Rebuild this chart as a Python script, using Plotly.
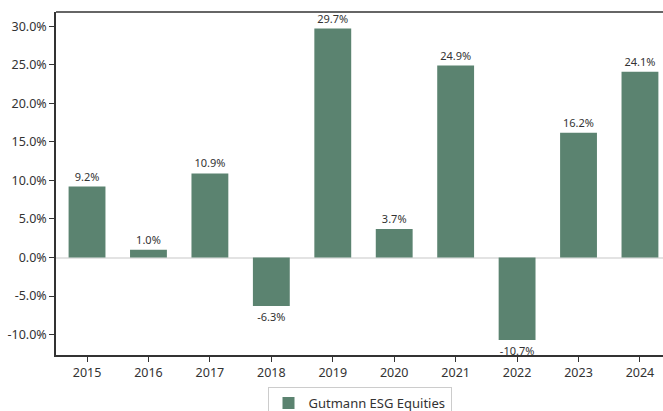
import plotly.graph_objects as go

years = ["2015", "2016", "2017", "2018", "2019", "2020", "2021", "2022", "2023", "2024"]
returns = [9.2, 1.0, 10.9, -6.3, 29.7, 3.7, 24.9, -10.7, 16.2, 24.1]
series_name = "Gutmann ESG Equities"
tick_vals = [-10, -5, 0, 5, 10, 15, 20, 25, 30]
tick_text = [f"{v:.1f}%" for v in tick_vals]

FONT = "Noto Sans, Open Sans, sans-serif"
DARK = "#333333"

fig = go.Figure()
fig.add_trace(go.Bar(
    x=list(range(len(years))),
    y=returns,
    name=series_name,
    width=0.6,
    marker=dict(color="#5b8370", line=dict(width=0)),
    text=[f"{v:.1f}%" for v in returns],
    textposition="outside",
    textfont=dict(family=FONT, size=11, color=DARK),
    cliponaxis=False,
    showlegend=True,
))

fig.update_layout(
    width=663, height=411,
    margin=dict(l=56, r=0, t=12, b=56),
    plot_bgcolor="white", paper_bgcolor="white",
    font=dict(family=FONT, size=12.5, color=DARK),
    bargap=0.4,
    showlegend=True,
    legend=dict(
        orientation="h", x=0.5, xanchor="center",
        yref="container", y=1 - 387 / 411, yanchor="top",
        bordercolor="#cccccc", borderwidth=1,
        font=dict(family=FONT, size=13, color=DARK),
    ),
    xaxis=dict(
        tickmode="array", tickvals=list(range(len(years))), ticktext=years,
        range=[-0.505, 9.375],
        showline=True, linecolor=DARK, linewidth=1.5, mirror=False,
        ticks="outside", ticklen=5, tickcolor=DARK,
        showgrid=False, zeroline=False, automargin=False,
    ),
    yaxis=dict(
        range=[-12.65, 31.85],
        tickmode="array", tickvals=tick_vals, ticktext=tick_text,
        showline=True, linecolor=DARK, linewidth=1.5,
        ticks="outside", ticklen=5, tickcolor=DARK,
        showgrid=False, automargin=False,
        zeroline=True, zerolinecolor="#e3e3e3", zerolinewidth=1.5,
    ),
    shapes=[dict(type="line", xref="paper", yref="paper", x0=0, x1=1, y0=1, y1=1,
                 line=dict(color=DARK, width=1.5))],
)

fig.write_html(
    "out.html",
    config={"displayModeBar": False},
    post_script="document.body.style.margin='0';document.body.style.overflow='hidden';",
)
